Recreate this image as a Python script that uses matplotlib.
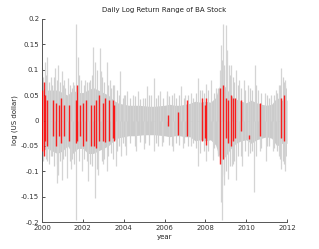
import numpy as np
import matplotlib
matplotlib.use("Agg")
import matplotlib.pyplot as plt

# Quarterly core range of the daily log returns (dense grey band)
core_years = [2000 + q * 0.25 for q in range(48)] + [2012.0]
core_hi = [0.065, 0.06, 0.06, 0.06,
           0.055, 0.05, 0.06, 0.055,
           0.055, 0.06, 0.065, 0.06,
           0.055, 0.05, 0.04, 0.034,
           0.032, 0.03, 0.03, 0.03,
           0.029, 0.028, 0.028, 0.029,
           0.03, 0.032, 0.03, 0.03,
           0.032, 0.034, 0.038, 0.036,
           0.038, 0.036, 0.045, 0.075,
           0.065, 0.05, 0.042, 0.038,
           0.035, 0.04, 0.035, 0.032,
           0.03, 0.032, 0.045, 0.04, 0.04]
core_lo = [-0.06, -0.055, -0.06, -0.065,
           -0.06, -0.05, -0.065, -0.055,
           -0.055, -0.065, -0.065, -0.06,
           -0.055, -0.05, -0.04, -0.034,
           -0.032, -0.03, -0.03, -0.029,
           -0.028, -0.028, -0.028, -0.029,
           -0.03, -0.032, -0.03, -0.03,
           -0.032, -0.032, -0.04, -0.038,
           -0.04, -0.038, -0.048, -0.08,
           -0.07, -0.055, -0.045, -0.04,
           -0.038, -0.045, -0.038, -0.035,
           -0.032, -0.035, -0.05, -0.045, -0.045]

# Medium-size daily ranges
mid_years = [2000.04, 2000.18, 2000.33, 2000.5, 2000.6, 2000.75, 2000.9, 2001.05, 2001.15, 2001.35,
             2001.45, 2001.58, 2001.8, 2002.05, 2002.2, 2002.35, 2002.45, 2002.7, 2002.95, 2003.05,
             2003.25, 2003.4, 2003.48, 2003.65, 2003.75, 2003.95, 2004.08, 2004.3, 2004.55, 2004.8,
             2005.05, 2005.25, 2005.6, 2005.7, 2005.95, 2006.2, 2006.35, 2006.55, 2006.7, 2006.95,
             2007.15, 2007.4, 2007.55, 2007.75, 2007.95, 2008.15, 2008.4, 2008.6, 2008.8, 2008.9,
             2009.0, 2009.2, 2009.35, 2009.42, 2009.6, 2009.75, 2009.95, 2010.2, 2010.3, 2010.5,
             2010.75, 2011.0, 2011.1, 2011.35, 2011.5, 2011.65, 2011.78, 2011.85, 2011.95]
mid_hi = [0.085, 0.09, 0.075, 0.07, 0.085, 0.08, 0.075, 0.07, 0.065, 0.07,
          0.065, 0.07, 0.09, 0.07, 0.075, 0.08, 0.09, 0.1, 0.085, 0.075,
          0.07, 0.065, 0.07, 0.06, 0.05, 0.045, 0.05, 0.045, 0.048, 0.042,
          0.045, 0.05, 0.045, 0.05, 0.045, 0.048, 0.05, 0.045, 0.05, 0.045,
          0.05, 0.045, 0.055, 0.06, 0.055, 0.06, 0.055, 0.065, 0.12, 0.11,
          0.1, 0.09, 0.085, 0.075, 0.07, 0.065, 0.06, 0.065, 0.06, 0.07,
          0.055, 0.05, 0.045, 0.05, 0.055, 0.07, 0.085, 0.075, 0.065]
mid_lo = [-0.08, -0.075, -0.085, -0.07, -0.09, -0.085, -0.08, -0.075, -0.07, -0.08,
          -0.075, -0.085, -0.08, -0.075, -0.08, -0.085, -0.09, -0.095, -0.08, -0.075,
          -0.07, -0.065, -0.075, -0.06, -0.05, -0.045, -0.05, -0.045, -0.05, -0.042,
          -0.045, -0.048, -0.045, -0.05, -0.042, -0.048, -0.05, -0.045, -0.048, -0.045,
          -0.05, -0.045, -0.055, -0.065, -0.06, -0.06, -0.055, -0.065, -0.11, -0.105,
          -0.1, -0.09, -0.085, -0.08, -0.07, -0.07, -0.06, -0.065, -0.06, -0.07,
          -0.055, -0.05, -0.05, -0.055, -0.06, -0.075, -0.08, -0.085, -0.07]

# Upward spikes (daily highs)
up_years = [2000.0, 2000.15, 2000.26, 2000.45, 2000.64, 2000.8, 2000.96, 2001.1,
            2001.29, 2001.5, 2001.68, 2001.75, 2001.9, 2002.1, 2002.3, 2002.52,
            2002.6, 2002.84, 2002.9, 2003.17, 2003.33, 2003.55, 2003.8, 2004.0,
            2004.18, 2004.45, 2004.72, 2004.95, 2005.16, 2005.35, 2005.49, 2005.78,
            2006.1, 2006.13, 2006.45, 2006.81, 2007.0, 2007.3, 2007.66, 2007.85,
            2008.04, 2008.28, 2008.5, 2008.7, 2008.77, 2008.86, 2008.99, 2009.05,
            2009.15, 2009.26, 2009.5, 2009.65, 2009.87, 2010.1, 2010.41, 2010.6,
            2010.9, 2011.2, 2011.45, 2011.6, 2011.72, 2011.9, 2011.98]
up_vals = [0.103, 0.116, 0.126, 0.085, 0.103, 0.109, 0.097, 0.08,
           0.084, 0.075, 0.19, 0.126, 0.08, 0.08, 0.075, 0.145,
           0.116, 0.142, 0.097, 0.116, 0.08, 0.07, 0.097, 0.05,
           0.058, 0.05, 0.058, 0.045, 0.068, 0.05, 0.084, 0.058,
           0.058, 0.05, 0.055, 0.068, 0.05, 0.055, 0.084, 0.06,
           0.071, 0.08, 0.065, 0.1, 0.149, 0.19, 0.188, 0.138,
           0.11, 0.11, 0.1, 0.08, 0.08, 0.07, 0.11, 0.06,
           0.055, 0.05, 0.06, 0.07, 0.103, 0.08, 0.068]

# Downward spikes (daily lows)
dn_years = [2000.07, 2000.23, 2000.45, 2000.72, 2000.8, 2001.0, 2001.2, 2001.4,
            2001.67, 2001.97, 2002.27, 2002.6, 2002.75, 2003.0, 2003.16, 2003.6,
            2003.85, 2004.1, 2004.6, 2005.0, 2005.5, 2005.9, 2006.4, 2006.9,
            2007.3, 2007.66, 2008.02, 2008.37, 2008.6, 2008.77, 2008.82, 2008.93,
            2009.1, 2009.3, 2009.5, 2009.8, 2010.1, 2010.36, 2010.7, 2010.98,
            2011.3, 2011.6, 2011.72, 2011.9]
dn_vals = [-0.075, -0.08, -0.07, -0.124, -0.108, -0.117, -0.114, -0.095,
           -0.196, -0.1, -0.12, -0.153, -0.108, -0.085, -0.1, -0.09,
           -0.07, -0.068, -0.06, -0.057, -0.06, -0.05, -0.06, -0.054,
           -0.05, -0.09, -0.08, -0.078, -0.07, -0.16, -0.196, -0.128,
           -0.115, -0.09, -0.117, -0.09, -0.07, -0.14, -0.06, -0.08,
           -0.06, -0.07, -0.095, -0.1]

# Highlighted (red) days
red_years = [2000.02, 2000.08, 2000.15, 2000.25, 2000.55, 2000.7, 2000.85, 2000.95,
             2001.1, 2001.3, 2001.65, 2001.72, 2001.85, 2002.0, 2002.15, 2002.4,
             2002.55, 2002.65, 2002.8, 2003.0, 2003.1, 2003.3, 2003.5, 2003.55,
             2006.16, 2006.65, 2007.08, 2007.83, 2008.0, 2008.05, 2008.73, 2008.86,
             2009.0, 2009.1, 2009.25, 2009.36, 2009.46, 2009.77, 2010.15, 2010.69,
             2011.7, 2011.83]
red_hi = [0.06, 0.075, 0.05, 0.04, 0.04, 0.035, 0.03, 0.045,
          0.03, 0.03, 0.04, 0.07, 0.03, 0.035, 0.04, 0.03,
          0.03, 0.04, 0.05, 0.035, 0.044, 0.04, 0.04, 0.03,
          0.01, 0.017, 0.04, 0.045, 0.03, 0.045, 0.065, 0.07,
          0.045, 0.04, 0.05, 0.045, 0.045, 0.04, -0.028, 0.035,
          0.045, 0.05]
red_lo = [-0.06, -0.07, -0.04, -0.05, -0.03, -0.05, -0.03, -0.045,
          -0.03, -0.04, -0.045, -0.04, -0.03, -0.05, -0.04, -0.05,
          -0.05, -0.055, -0.04, -0.04, -0.042, -0.04, -0.035, -0.04,
          -0.01, -0.029, -0.03, -0.04, -0.035, -0.048, -0.085, -0.075,
          -0.035, -0.045, -0.05, -0.04, -0.035, -0.02, -0.036, -0.03,
          -0.035, -0.04]

fig = plt.figure(figsize=(3.19, 2.49), dpi=100)
ax = fig.add_axes([0.1317, 0.1084, 0.768, 0.8153])

ax.fill_between(core_years, core_lo, core_hi, color="#cbcbcb", lw=0, zorder=1)
ax.vlines(mid_years, mid_lo, mid_hi, color="#d0d0d0", lw=0.9, zorder=2)
ax.vlines(up_years, 0, up_vals, color="#d4d4d4", lw=0.9, zorder=2)
ax.vlines(dn_years, dn_vals, 0, color="#d4d4d4", lw=0.9, zorder=2)
ax.vlines(red_years, red_lo, red_hi, color="#ff0000", lw=1.0, alpha=0.85, zorder=3)

ax.set_xlim(2000, 2012)
ax.set_ylim(-0.2, 0.2)
ax.set_xticks([2000, 2002, 2004, 2006, 2008, 2010, 2012])
yt = [-0.2, -0.15, -0.1, -0.05, 0, 0.05, 0.1, 0.15, 0.2]
ax.set_yticks(yt)
ax.set_yticklabels(["-0.2", "-0.15", "-0.1", "-0.05", "0", "0.05", "0.1", "0.15", "0.2"])
ax.tick_params(direction="in", labelsize=5, length=2.5, width=0.6, colors="#333333", pad=2)
for s in ["top", "right"]:
    ax.spines[s].set_visible(False)
for s in ["left", "bottom"]:
    ax.spines[s].set_color("#555555")
    ax.spines[s].set_linewidth(0.7)

ax.set_title("Daily Log Return Range of BA Stock", fontsize=5, color="#222222", pad=5)
ax.set_xlabel("year", fontsize=5, color="#222222", labelpad=2)
ax.set_ylabel("log (US dollar)", fontsize=5, color="#222222", labelpad=2)

fig.savefig("out.png", dpi=100)
